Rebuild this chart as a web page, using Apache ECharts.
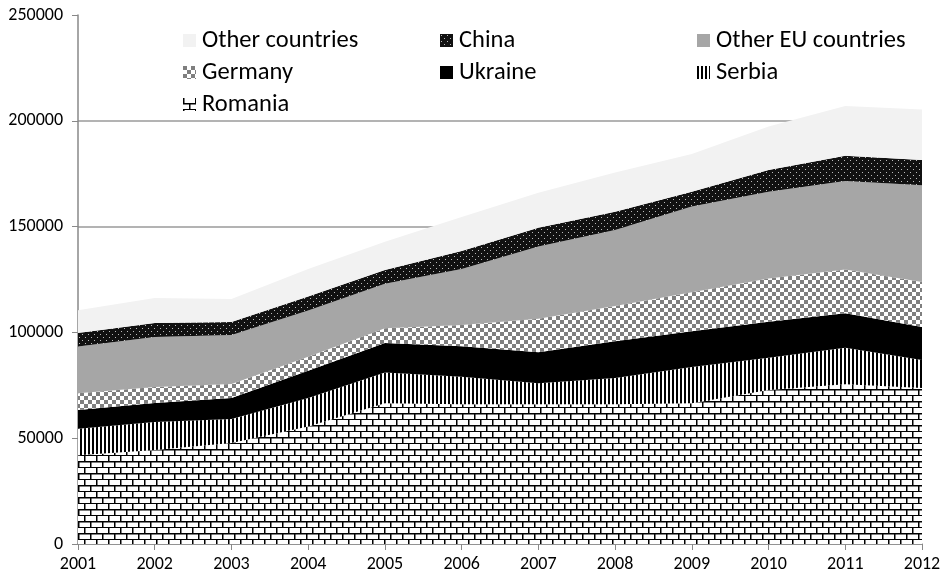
<!DOCTYPE html>
<html>
<head>
<meta charset="utf-8">
<script src="https://cdn.jsdelivr.net/npm/echarts@6/dist/echarts.min.js"></script>
<style>html,body{margin:0;padding:0;background:#fff}#c{width:946px;height:580px}</style>
</head>
<body>
<div id="c"></div>
<script>
const years = ['2001','2002','2003','2004','2005','2006','2007','2008','2009','2010','2011','2012'];
const romania  = [42000, 44400, 47700, 55500, 66500, 66000, 66000, 66000, 66500, 72800, 75500, 73700];
const serbia   = [12500, 13300, 11400, 13500, 14500, 13000, 10000, 12500, 17100, 15200, 17300, 13300];
const ukraine  = [8800, 8900, 9900, 12900, 14000, 14500, 14600, 17300, 16900, 17000, 16200, 15500];
const germany  = [7900, 7600, 6600, 6600, 7000, 10000, 15800, 16700, 18500, 20500, 20700, 21300];
const otherEU  = [22100, 23600, 23200, 21800, 21000, 26500, 34200, 35900, 40500, 41000, 41800, 45700];
const china    = [6400, 6600, 6100, 6700, 6500, 8500, 8800, 8600, 7000, 10300, 12000, 12000];
const otherCountries = [10800, 11900, 10900, 13000, 13300, 16000, 16600, 18600, 17800, 20500, 23500, 23800];

function tile(w, h, draw) {
  const c = document.createElement('canvas');
  c.width = w; c.height = h;
  const g = c.getContext('2d');
  draw(g);
  return {image: c, repeat: 'repeat'};
}
const brick = tile(12, 12, g => {
  g.fillStyle = '#fff'; g.fillRect(0, 0, 12, 12);
  g.fillStyle = '#000';
  g.fillRect(0, 5, 12, 1.5); g.fillRect(0, 11, 12, 1.5);
  g.fillRect(0, 0, 1.5, 6); g.fillRect(6, 6, 1.5, 6);
});
const stripes = tile(4, 4, g => {
  g.fillStyle = '#fff'; g.fillRect(0, 0, 4, 4);
  g.fillStyle = '#000'; g.fillRect(0, 0, 2, 4);
});
const checker = tile(8, 8, g => {
  g.fillStyle = '#fff'; g.fillRect(0, 0, 8, 8);
  g.fillStyle = '#7f7f7f'; g.fillRect(0, 0, 4, 4); g.fillRect(4, 4, 4, 4);
});
const dots = tile(6, 6, g => {
  g.fillStyle = '#111'; g.fillRect(0, 0, 6, 6);
  g.fillStyle = '#bbb'; g.fillRect(1, 1, 1, 1); g.fillRect(4, 4, 1, 1);
});

const defs = [
  {name: 'Romania', data: romania, color: brick},
  {name: 'Serbia', data: serbia, color: stripes},
  {name: 'Ukraine', data: ukraine, color: '#000000'},
  {name: 'Germany', data: germany, color: checker},
  {name: 'Other EU countries', data: otherEU, color: '#a6a6a6'},
  {name: 'China', data: china, color: dots},
  {name: 'Other countries', data: otherCountries, color: '#f2f2f2'}
];
const colorOf = n => defs.find(d => d.name === n).color;
const font = 'Carlito, Lato, "Liberation Sans", sans-serif';
function legendCol(left, names) {
  return {
    left: left, top: 28, orient: 'vertical', padding: 0, itemGap: 7,
    itemWidth: 13, itemHeight: 13, icon: 'rect', selectedMode: false,
    textStyle: {fontSize: 24.5, lineHeight: 24, color: '#000', fontFamily: font, padding: [0, 0, 0, 1]},
    data: names.map(n => ({name: n, itemStyle: {color: colorOf(n), borderWidth: 0}}))
  };
}
const chart = echarts.init(document.getElementById('c'));
chart.setOption({
  animation: false,
  backgroundColor: '#fff',
  grid: {left: 78, right: 24, top: 15, bottom: 36, containLabel: false},
  legend: [
    legendCol(183, ['Other countries', 'Germany', 'Romania']),
    legendCol(440, ['China', 'Ukraine']),
    legendCol(697, ['Other EU countries', 'Serbia'])
  ],
  xAxis: {
    type: 'category', data: years, boundaryGap: false,
    axisLine: {lineStyle: {color: '#888', width: 1.5}},
    axisTick: {show: true, length: 6, lineStyle: {color: '#888'}},
    axisLabel: {fontSize: 18, color: '#000', fontFamily: font, margin: 11}
  },
  yAxis: {
    type: 'value', min: 0, max: 250000, interval: 50000,
    axisLine: {show: true, lineStyle: {color: '#888', width: 1.5}},
    axisTick: {show: true, length: 6, lineStyle: {color: '#888'}},
    axisLabel: {fontSize: 18, color: '#000', fontFamily: font, margin: 15, formatter: v => String(v)},
    splitLine: {show: true, showMaxLine: false, lineStyle: {color: '#9a9a9a', width: 1.5}}
  },
  series: defs.map(d => ({
    name: d.name, type: 'line', stack: 'total', data: d.data,
    symbol: 'none', lineStyle: {width: 0}, itemStyle: {color: d.color},
    areaStyle: {color: d.color, opacity: 1}
  }))
});
</script>
</body>
</html>
